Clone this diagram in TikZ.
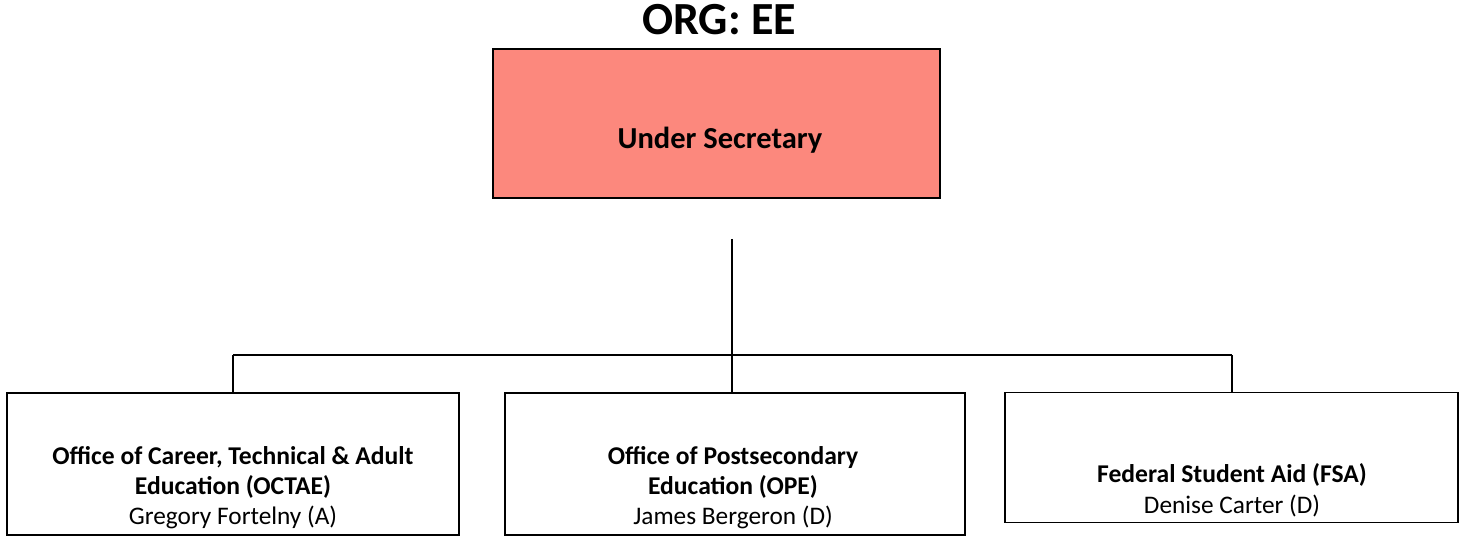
\documentclass[tikz,border=0pt]{standalone}
\usepackage{fontspec}
\setmainfont{Carlito}
\definecolor{salmonfill}{RGB}{252,136,125}
\begin{document}
\begin{tikzpicture}[x=1pt,y=-1pt,
  orgbox/.style={draw=black,line width=1.6pt,rectangle,inner sep=0pt},
  conn/.style={draw=black,line width=1.8pt},
  unitname/.style={font=\fontsize{25.6}{30}\selectfont\bfseries,anchor=base,inner sep=0pt},
  person/.style={font=\fontsize{25.3}{30}\selectfont,anchor=base,inner sep=0pt}]
\useasboundingbox (0,0) rectangle (1459,537);
% title
\node[font=\fontsize{46}{50}\selectfont\bfseries,anchor=base,inner sep=0pt] (title) at (719,35) {ORG: EE};
% top box
\node[orgbox,fill=salmonfill,minimum width=447pt,minimum height=149pt] (us) at (716.5,123.5) {};
\node[font=\fontsize{30.5}{34}\selectfont\bfseries,anchor=base,inner sep=0pt] (uslbl) at (720,149) {Under Secretary};
% bottom boxes
\node[orgbox,minimum width=452pt,minimum height=142pt] (octae) at (233,464) {};
\node[orgbox,minimum width=460pt,minimum height=142pt] (ope) at (735,464) {};
\node[orgbox,minimum width=453pt,minimum height=130pt] (fsa) at (1231.5,457.5) {};
% labels
\node[unitname] (l1a) at (233,464) {Office of Career, Technical \& Adult};
\node[unitname] (l1b) at (233,494) {Education (OCTAE)};
\node[person] (l1c) at (233,524) {Gregory Fortelny (A)};
\node[unitname] (l2a) at (733,464) {Office of Postsecondary};
\node[unitname] (l2b) at (733,494) {Education (OPE)};
\node[person] (l2c) at (733,524) {James Bergeron (D)};
\node[unitname] (l3a) at (1232,482) {Federal Student Aid (FSA)};
\node[person] (l3b) at (1232,513) {Denise Carter (D)};
% connectors
\coordinate (stem) at (732,239);
\coordinate (bus) at (732,355);
\coordinate (busL) at (233,355);
\coordinate (busR) at (1232,355);
\draw[conn] (stem) -- (bus);
\draw[conn] (busL) -- (busR);
\draw[conn] (busL) -- (busL |- octae.north);
\draw[conn] (bus) -- (bus |- ope.north);
\draw[conn] (busR) -- (busR |- fsa.north);
\end{tikzpicture}
\end{document}
